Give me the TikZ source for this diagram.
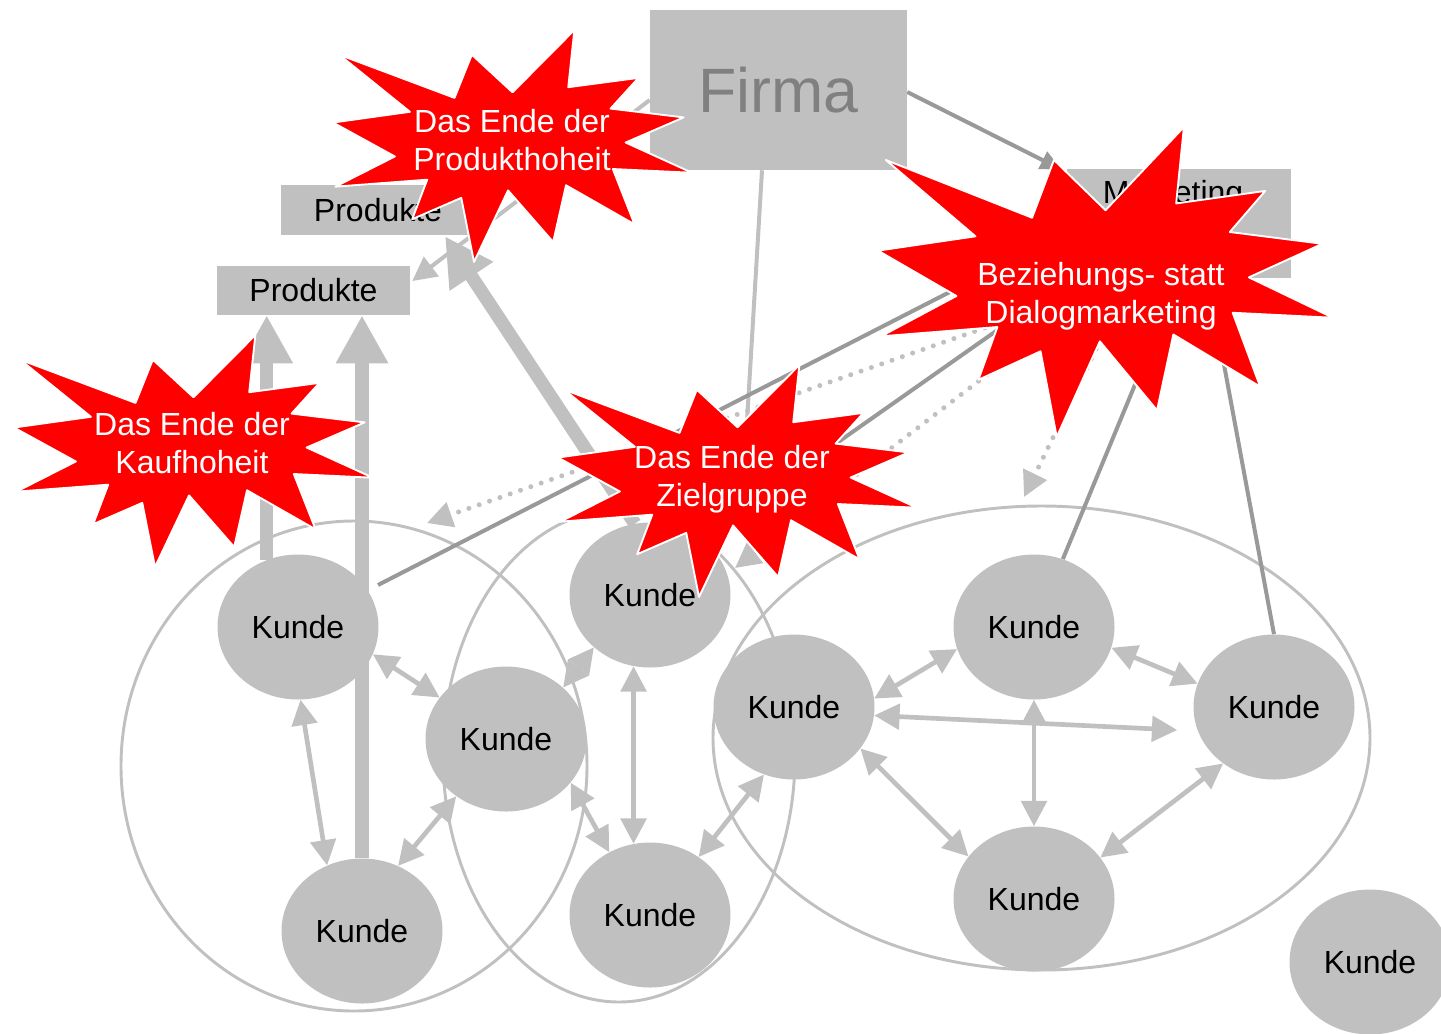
\documentclass[tikz,border=0pt]{standalone}
\usepackage{fontspec}
\setmainfont{Liberation Sans}
\usetikzlibrary{arrows.meta,shapes.geometric,calc}

\definecolor{lgray}{HTML}{C0C0C0}
\definecolor{dgray}{HTML}{999999}
\definecolor{firmatext}{HTML}{808080}
\definecolor{sealred}{HTML}{FF0000}

\pgfdeclarelayer{back}
\pgfsetlayers{back,main}

% Explosion shape in a box: #1,#2 = top left corner, #3 = width, #4 = height
\newcommand\drawseal[4]{%
  \begin{scope}[shift={(#1,#2)},xscale=#3/100,yscale=#4/100]
    \filldraw[seal] (50,26.85) -- (67.23,0) -- (65.53,24.65) -- (85.09,20.63)
      -- (77.32,33.87) -- (97.67,37.67) -- (81.51,48.50) -- (100,61.53)
      -- (77.95,59.92) -- (84.00,83.77) -- (64.91,66.93) -- (61.33,91.38)
      -- (48.76,69.14) -- (39.28,100) -- (35.72,72.35) -- (22.05,81.56)
      -- (26.24,64.52) -- (0.63,67.53) -- (17.23,54.51) -- (0,39.88)
      -- (21.42,35.26) -- (1.71,10.63) -- (33.85,29.26) -- (38.67,10.63) -- cycle;
  \end{scope}}

\tikzset{
  txt/.style={font=\fontsize{24}{28}\selectfont},
  greybox/.style={rectangle, fill=lgray, inner sep=0pt, txt},
  kunde/.style={ellipse, fill=lgray, inner sep=0pt, minimum width=120.75pt,
    minimum height=108.75pt, txt},
  seal/.style={fill=sealred, draw=white, line width=1.4pt, line join=round},
  sealtext/.style={text=white, align=center, inner sep=0pt, txt},
  ring/.style={draw=lgray, line width=2.2pt},
  link/.style={draw=lgray, line width=3.5pt,
    arrows={Triangle[length=19pt,width=19pt]-Triangle[length=19pt,width=19pt]}},
  bigarrow/.style={draw=lgray, line width=10pt,
    arrows={-Triangle[length=36pt,width=36.75pt]}},
  fline/.style={draw=lgray, line width=3pt},
  mline/.style={draw=dgray, line width=3pt},
  dots/.style={draw=lgray, line width=3.75pt, line cap=round,
    dash pattern=on 0pt off 8.2pt, arrows={-Triangle[length=19pt,width=19pt]}},
}

\begin{document}
\begin{tikzpicture}[x=0.75pt,y=-0.75pt]
\useasboundingbox (0,0) rectangle (1441,1033);

% ---------- boxes ----------
\node[greybox, minimum width=192.75pt, minimum height=120pt, text=firmatext,
      font=\fontsize{47}{56}\selectfont] (Firma) at (778.5,90) {Firma};
\node[greybox, minimum width=168pt, minimum height=81.75pt] (M) at (1179,223.5) {};
\node[txt, inner sep=0pt] (Mtext) at (1173,195) {Marketing};
\node[greybox, minimum width=145.5pt, minimum height=37.5pt] (P1) at (378,210) {Produkte};
\node[greybox, minimum width=144.75pt, minimum height=36.75pt] (P2) at (313.5,290.5) {Produkte};

% ---------- customers ----------
\node[kunde] (K1) at (298,627) {Kunde};
\node[kunde] (K2) at (506,739) {Kunde};
\node[kunde] (K3) at (362,931) {Kunde};
\node[kunde] (K4) at (650,595) {Kunde};
\node[kunde] (K5) at (650,915) {Kunde};
\node[kunde] (K6) at (794,707) {Kunde};
\node[kunde] (K7) at (1034,627) {Kunde};
\node[kunde] (K8) at (1274,707) {Kunde};
\node[kunde] (K9) at (1034,899) {Kunde};
\node[kunde] (K10) at (1370,962) {Kunde};

% free ends
\coordinate (fEnd) at (741,522);
\coordinate (d1) at (427,523);
\coordinate (d2) at (735,568);
\coordinate (d3) at (1024,497);

\begin{pgfonlayer}{back}
  % customer groups
  \draw[ring] (354,766) ellipse [x radius=174.75pt, y radius=183.75pt];
  \draw[ring] (619,756) ellipse [x radius=132pt, y radius=184.5pt];
  \draw[ring] (1041.5,738) ellipse [x radius=246.375pt, y radius=174pt];

  % company links
  \draw[fline, -{Triangle[length=18pt,width=18pt]}] ($(Firma.west)+(0,10)$) -- ($(P2.east)+(2,-9.5)$);
  \draw[fline] ($(Firma.south)+(-16.5,0)$) -- (fEnd);
  \draw[mline, -{Triangle[length=16pt,width=14pt]}] ($(Firma.east)+(0,2)$) -- ($(M.north west)+(-5,1)$);

  % marketing links
  \draw[mline] ($(M.center)+(-79,-8.5)$) -- ($(K1.center)+(80,-42)$);
  \draw[mline] ($(M.center)+(-79,34.5)$) -- (K4.48);
  \draw[mline] (M.south) -- (K7.67);
  \draw[mline] ($(M.south)+(29,0)$) -- (K8.north);
  \draw[dots] ($(M.center)+(-29,46.5)$) -- (d1);
  \draw[dots] ($(M.center)+(-79,64.5)$) -- (d2);
  \draw[dots] ($(M.center)+(-59,76.5)$) -- (d3);

  % customers to products
  \draw[bigarrow] (K1.115) -- (K1.115 |- P2.south);
  \draw[bigarrow] (K3.north) -- (K3.north |- P2.south);
  \draw[bigarrow] (K4.102) -- ($(P1.south)+(67,1)$);

  % customer network
  \draw[link] (K1.-20) -- (K2.148);
  \draw[link] (K1.-88) -- (K3.118);
  \draw[link] (K2.-131) -- (K3.61);
  \draw[link] (K2.42) -- (K4.-137);
  \draw[link] (K2.-34) -- (K5.123);
  \draw[link] (K4.-103) -- (K5.103);
  \draw[link] (K5.50) -- (K6.-114);
  \draw[link] (K6.6) -- (K7.-164);
  \draw[link] (K6.-6) -- ($(K8.west)+(-16,23)$);
  \draw[link] (K7.-90) -- (K9.90);
  \draw[link] (K7.-15) -- (K8.163);
  \draw[link] (K6.-32) -- (K9.147);
  \draw[link] (K8.-132) -- (K9.32);
\end{pgfonlayer}

% ---------- explosions ----------
\drawseal{333}{30}{359}{232}
\drawseal{14}{335}{359}{232}
\drawseal{558}{365}{359}{232}
\drawseal{878}{127}{455}{310}

\node[sealtext] (s1) at (512,144) {\strut Das Ende der\\\strut Produkthoheit};
\node[sealtext] (s2) at (192,447) {\strut Das Ende der\\\strut Kaufhoheit};
\node[sealtext] (s3) at (732,480) {\strut Das Ende der\\\strut Zielgruppe};
\node[sealtext] (s4) at (1101,297) {\strut Beziehungs- statt\\\strut Dialogmarketing};
\end{tikzpicture}
\end{document}
